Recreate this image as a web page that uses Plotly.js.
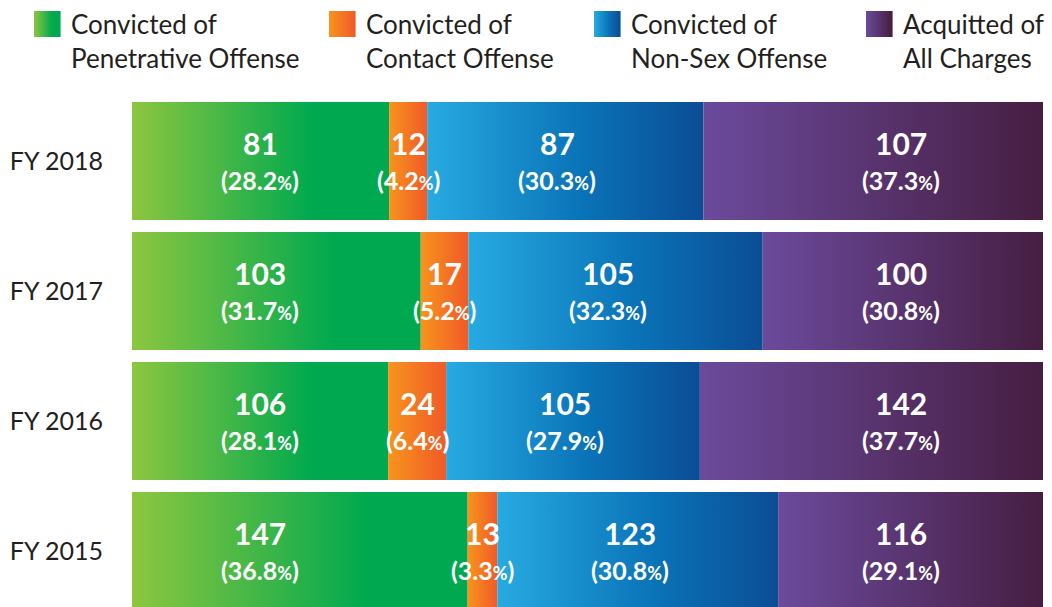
<!DOCTYPE html>
<html>
<head>
<meta charset="utf-8">
<script src="https://cdn.plot.ly/plotly-3.0.1.min.js"></script>
<style>html,body{margin:0;padding:0;background:#fff;}#chart{width:1052px;height:607px;}</style>
</head>
<body>
<div id="chart"></div>
<script>
// ---- data ----
const categories = ["FY 2018", "FY 2017", "FY 2016", "FY 2015"];
const seriesNames = [
  "Convicted of<br>Penetrative Offense",
  "Convicted of<br>Contact Offense",
  "Convicted of<br>Non-Sex Offense",
  "Acquitted of<br>All Charges"
];
const penetrative = [81, 103, 106, 147];
const contact = [12, 17, 24, 13];
const nonSex = [87, 105, 105, 123];
const acquitted = [107, 100, 142, 116];
const penetrativePct = ["28.2", "31.7", "28.1", "36.8"];
const contactPct = ["4.2", "5.2", "6.4", "3.3"];
const nonSexPct = ["30.3", "32.3", "27.9", "30.8"];
const acquittedPct = ["37.3", "30.8", "37.7", "29.1"];

// ---- styles ----
const gradients = [
  [[0, '#8dc63f'], [0.7, '#00a94f'], [1, '#00a94f']],
  [[0, '#f7941d'], [1, '#f05a28']],
  [[0, '#27aae1'], [0.55, '#0a74b8'], [1, '#0b4d95']],
  [[0, '#6b4a9c'], [1, '#461e42']]
];
// label anchoring: first and last series use a fixed column, others centered
const fixedLabelX = [14.05, null, null, 84.4];
const labelShift = [0, 0, -8, 0];
const counts = [penetrative, contact, nonSex, acquitted];
const pcts = [penetrativePct, contactPct, nonSexPct, acquittedPct];
const halfH = 0.454;
const yPos = categories.map((c, i) => categories.length - 1 - i);

const traces = [];
const annotations = [];
categories.forEach((cat, ci) => {
  const total = counts.reduce((s, arr) => s + arr[ci], 0);
  let cum = 0;
  counts.forEach((arr, si) => {
    const w = arr[ci] / total * 100;
    const x0 = cum, x1 = cum + w;
    const yc = yPos[ci];
    traces.push({
      type: 'scatter', mode: 'none', fill: 'toself',
      x: [x0, x1, x1, x0, x0],
      y: [yc - halfH, yc - halfH, yc + halfH, yc + halfH, yc - halfH],
      fillgradient: {type: 'horizontal', colorscale: gradients[si], start: x0, stop: x1},
      hoverinfo: 'skip', showlegend: false
    });
    const xm = fixedLabelX[si] !== null ? fixedLabelX[si] : (x0 + x1) / 2;
    annotations.push({
      x: xm, y: yc, xref: 'x', yref: 'y', showarrow: false,
      text: '<b>' + arr[ci] + '</b>', yshift: 18, xshift: labelShift[si],
      font: {family: 'Lato', size: 30, color: '#ffffff'}
    });
    annotations.push({
      x: xm, y: yc, xref: 'x', yref: 'y', showarrow: false,
      text: '<b>(' + pcts[si][ci] + '<span style="font-size:18px">%</span>)</b>', yshift: -19, xshift: labelShift[si],
      font: {family: 'Lato', size: 25, color: '#ffffff'}
    });
    cum = x1;
  });
});

// legend (decorative): gradient swatches + labels
const legendX = [34, 329, 594, 866];
const shapes = [];
function hexToRgb(h) { return [1, 3, 5].map(i => parseInt(h.substr(i, 2), 16)); }
function colorAt(scale, t) {
  for (let i = 0; i < scale.length - 1; i++) {
    const [a, ca] = scale[i], [b, cb] = scale[i + 1];
    if (t >= a && t <= b) {
      const f = b === a ? 0 : (t - a) / (b - a);
      const A = hexToRgb(ca), B = hexToRgb(cb);
      return 'rgb(' + A.map((v, k) => Math.round(v + (B[k] - v) * f)).join(',') + ')';
    }
  }
  return scale[scale.length - 1][1];
}
const W = 1052, H = 607, sw = 26, steps = 13;
seriesNames.forEach((name, si) => {
  const lx = legendX[si];
  for (let k = 0; k < steps; k++) {
    shapes.push({
      type: 'rect', xref: 'paper', yref: 'paper', layer: 'above',
      x0: (lx - 132 + k * sw / steps) / 911, x1: (lx - 132 + (k + 1) * sw / steps + 0.6) / 911,
      y0: (607 - 37) / 511, y1: (607 - 11) / 511,
      line: {width: 0}, fillcolor: colorAt(gradients[si], (k + 0.5) / steps)
    });
  }
  annotations.push({
    xref: 'paper', yref: 'paper', x: (lx + 35 - 132) / 911, y: (607 - 6) / 511,
    xanchor: 'left', yanchor: 'top', align: 'left', showarrow: false,
    text: name, font: {family: 'Lato', size: 26, color: '#231f20'}
  });
});

const layout = {
  width: W, height: H,
  margin: {l: 132, r: 9, t: 96, b: 0},
  paper_bgcolor: '#ffffff', plot_bgcolor: '#ffffff',
  showlegend: false,
  xaxis: {range: [0, 100], visible: false, fixedrange: true},
  yaxis: {
    range: [-0.4308, 3.5], tickvals: yPos, ticktext: categories,
    showgrid: false, zeroline: false, showline: false, ticks: '',
    ticklabelstandoff: 28,
    tickfont: {family: 'Lato', size: 25, color: '#231f20'}, fixedrange: true
  },
  annotations: annotations,
  shapes: shapes
};
Plotly.newPlot('chart', traces, layout, {displayModeBar: false, staticPlot: true});
</script>
</body>
</html>
